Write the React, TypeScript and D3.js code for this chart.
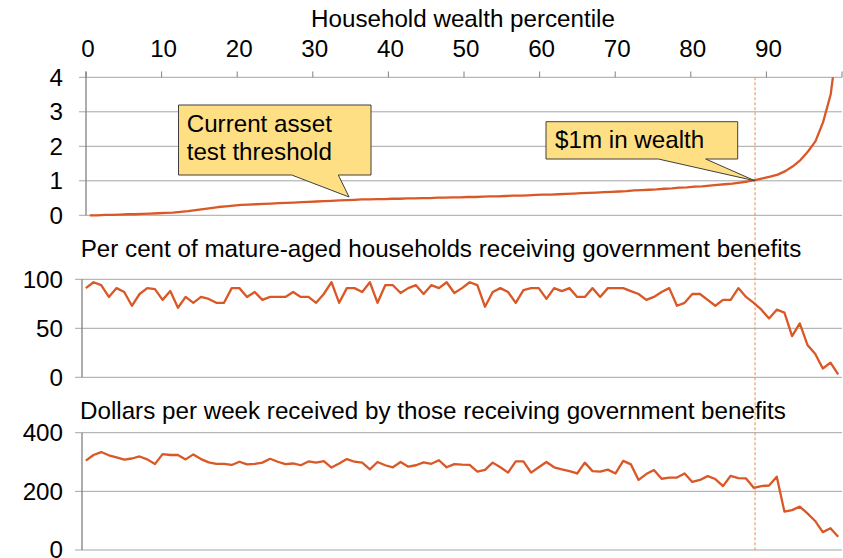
import React from "react";
import * as d3 from "d3";

// ---------- DATA ----------
const percentileTicks = [0, 10, 20, 30, 40, 50, 60, 70, 80, 90, 100];
const percentileTickLabels = ["0", "10", "20", "30", "40", "50", "60", "70", "80", "90", ""];

// Household wealth ($m) by percentile (100 points)
const wealth = [
  0.0, 0.0, 0.01, 0.01, 0.02, 0.03, 0.03, 0.04, 0.05, 0.06,
  0.07, 0.08, 0.1, 0.12, 0.15, 0.18, 0.21, 0.24, 0.26, 0.28,
  0.3, 0.31, 0.32, 0.33, 0.34, 0.35, 0.36, 0.37, 0.38, 0.39,
  0.4, 0.41, 0.42, 0.43, 0.44, 0.45, 0.46, 0.46, 0.47, 0.47,
  0.48, 0.48, 0.49, 0.49, 0.5, 0.5, 0.51, 0.51, 0.52, 0.52,
  0.53, 0.53, 0.54, 0.55, 0.55, 0.56, 0.57, 0.57, 0.58, 0.59,
  0.6, 0.6, 0.61, 0.62, 0.63, 0.64, 0.65, 0.66, 0.67, 0.68,
  0.69, 0.7, 0.72, 0.73, 0.74, 0.75, 0.77, 0.78, 0.8, 0.81,
  0.83, 0.84, 0.86, 0.88, 0.9, 0.92, 0.95, 0.98, 1.02, 1.07,
  1.12, 1.18, 1.28, 1.42, 1.6, 1.85, 2.15, 2.7, 3.5, 5.2,
];

// Per cent of mature-aged households receiving government benefits (99 points)
const benefitShare = [
  91, 97, 94, 82, 91, 87, 73, 85, 91, 90,
  79, 88, 71, 82, 76, 82, 80, 76, 76, 91,
  91, 82, 87, 79, 82, 82, 82, 87, 82, 82,
  76, 85, 97, 76, 91, 91, 87, 97, 76, 94,
  94, 86, 91, 94, 85, 94, 91, 97, 86, 91,
  97, 94, 72, 87, 91, 87, 76, 89, 91, 91,
  80, 91, 88, 91, 82, 82, 91, 82, 91, 91,
  91, 88, 85, 79, 82, 87, 91, 73, 76, 85,
  85, 79, 73, 79, 79, 91, 82, 76, 69, 60,
  69, 66, 42, 55, 33, 24, 9, 15, 3,
];

// Dollars per week received by those receiving government benefits (99 points)
const benefitDollars = [
  305, 324, 334, 323, 316, 308, 312, 319, 309, 293,
  327, 324, 324, 309, 326, 310, 299, 294, 294, 290,
  301, 292, 294, 298, 311, 301, 293, 295, 289, 302,
  298, 303, 281, 295, 310, 301, 298, 275, 300, 289,
  282, 300, 284, 289, 299, 294, 306, 282, 293, 291,
  290, 267, 273, 298, 282, 264, 302, 302, 264, 282,
  300, 282, 275, 269, 261, 298, 269, 267, 274, 261,
  304, 292, 239, 259, 273, 243, 247, 247, 261, 232,
  239, 252, 242, 218, 253, 245, 244, 212, 218, 220,
  250, 131, 136, 148, 125, 99, 61, 74, 45,
];

const wealthTicks = [0, 1, 2, 3, 4];
const shareTicks = [0, 50, 100];
const dollarTicks = [0, 200, 400];

const millionPercentile = 88.5;
const assetThresholdPercentile = 34.8;

const title = "Household wealth percentile";
const shareTitle = "Per cent of mature-aged households receiving government benefits";
const dollarTitle = "Dollars per week received by those receiving government benefits";

// ---------- STYLE ----------
const W = 843;
const H = 558;
const FONT = "'Liberation Sans', Arial, Helvetica, sans-serif";
const FS = 24.2;
const LINE = "#DA5726";
const GRID = "#A6A6A6";
const AXIS = "#808080";
const CALLOUT_FILL = "#FFDF84";
const CALLOUT_STROKE = "#3F3F3F";

export default function App() {
  // Scales
  const xTop = d3.scaleLinear().domain([0, 100]).range([86, 842]);
  const xLow = d3.scaleLinear().domain([0, benefitShare.length]).range([82, 842]);

  const yTop = d3.scaleLinear().domain([0, 4]).range([215.3, 77.3]);
  const yMid = d3.scaleLinear().domain([0, 100]).range([377.3, 279.3]);
  const yBot = d3.scaleLinear().domain([0, 400]).range([550, 432.7]);

  const topLine = d3
    .line<number>()
    .x((_, i) => xTop(i + 0.5))
    .y((d) => yTop(d));
  const midLine = d3
    .line<number>()
    .x((_, i) => xLow(i + 0.5))
    .y((d) => yMid(d));
  const botLine = d3
    .line<number>()
    .x((_, i) => xLow(i + 0.5))
    .y((d) => yBot(d));

  const dashX = xTop(millionPercentile);

  // Callout geometry
  const c1 = { x0: 178.5, y0: 105, x1: 371, y1: 175, b0: 291.7, b1: 338.3 };
  const c1tip = [xTop(assetThresholdPercentile), yTop(0.53)];
  const c1Path = `M${c1.x0},${c1.y0}H${c1.x1}V${c1.y1}H${c1.b1}L${c1tip[0]},${c1tip[1]}L${c1.b0},${c1.y1}H${c1.x0}Z`;

  const c2 = { x0: 546, y0: 121.7, x1: 737.7, y1: 159, b0: 658.3, b1: 705.7 };
  const c2tip = [dashX, yTop(1)];
  const c2Path = `M${c2.x0},${c2.y0}H${c2.x1}V${c2.y1}H${c2.b1}L${c2tip[0]},${c2tip[1]}L${c2.b0},${c2.y1}H${c2.x0}Z`;

  const xLowLeft = xLow(0);
  const xRight = 842;

  return (
    <svg
      width={W}
      height={H}
      viewBox={`0 0 ${W} ${H}`}
      style={{ position: "absolute", left: 0, top: 0, background: "#fff" }}
      fontFamily={FONT}
    >
      <defs>
        <clipPath id="topClip">
          <rect x={86} y={yTop(4)} width={xRight - 86} height={yTop(0) - yTop(4) + 3} />
        </clipPath>
      </defs>
      <rect x={0} y={0} width={W} height={H} fill="#fff" />

      {/* ---------- Top panel ---------- */}
      <text x={463} y={26.7} textAnchor="middle" fontSize={FS} fill="#000">
        {title}
      </text>
      {wealthTicks.map((t) => (
        <g key={"wg" + t}>
          <line x1={79} x2={xRight} y1={yTop(t)} y2={yTop(t)} stroke={GRID} strokeWidth={1} />
          <text x={63} y={yTop(t)} dy="0.35em" textAnchor="end" fontSize={FS} fill="#000">
            {t}
          </text>
        </g>
      ))}
      {percentileTicks.map((t, i) => (
        <g key={"pt" + t}>
          <line x1={xTop(t)} x2={xTop(t)} y1={71.5} y2={yTop(4)} stroke={AXIS} strokeWidth={1} />
          <text x={xTop(t) + 2} y={56.7} textAnchor="middle" fontSize={FS} fill="#000">
            {percentileTickLabels[i]}
          </text>
        </g>
      ))}
      <line x1={86} x2={86} y1={71.5} y2={yTop(0)} stroke={AXIS} strokeWidth={1.3} />

      {/* dashed marker across panels */}
      <line
        x1={dashX}
        x2={dashX}
        y1={yTop(4)}
        y2={yBot(0)}
        stroke="#F08A3C"
        strokeWidth={1}
        strokeDasharray="3,2"
      />

      <path
        d={topLine(wealth) || ""}
        fill="none"
        stroke={LINE}
        strokeWidth={2.3}
        clipPath="url(#topClip)"
        strokeLinejoin="round"
      />

      {/* callouts */}
      <path d={c1Path} fill={CALLOUT_FILL} stroke={CALLOUT_STROKE} strokeWidth={1} />
      <text x={186.7} y={132.3} fontSize={FS} fill="#000">
        Current asset
      </text>
      <text x={186.7} y={160} fontSize={FS} fill="#000">
        test threshold
      </text>
      <path d={c2Path} fill={CALLOUT_FILL} stroke={CALLOUT_STROKE} strokeWidth={1} />
      <text x={555} y={148.3} fontSize={FS} fill="#000">
        $1m in wealth
      </text>

      {/* ---------- Middle panel ---------- */}
      <text x={80.7} y={257.3} fontSize={FS} fill="#000">
        {shareTitle}
      </text>
      {shareTicks.map((t) => (
        <g key={"sg" + t}>
          <line x1={75} x2={xRight} y1={yMid(t)} y2={yMid(t)} stroke={GRID} strokeWidth={1} />
          <text x={63} y={yMid(t)} dy="0.35em" textAnchor="end" fontSize={FS} fill="#000">
            {t}
          </text>
        </g>
      ))}
      <line x1={xLowLeft} x2={xLowLeft} y1={yMid(100)} y2={yMid(0)} stroke={AXIS} strokeWidth={1.3} />
      <path d={midLine(benefitShare) || ""} fill="none" stroke={LINE} strokeWidth={2.3} strokeLinejoin="round" />

      {/* ---------- Bottom panel ---------- */}
      <text x={80} y={419.3} fontSize={FS} fill="#000">
        {dollarTitle}
      </text>
      {dollarTicks.map((t) => (
        <g key={"dg" + t}>
          <line x1={75} x2={xRight} y1={yBot(t)} y2={yBot(t)} stroke={GRID} strokeWidth={1} />
          <text x={63} y={yBot(t)} dy="0.35em" textAnchor="end" fontSize={FS} fill="#000">
            {t}
          </text>
        </g>
      ))}
      <line x1={xLowLeft} x2={xLowLeft} y1={yBot(400)} y2={yBot(0)} stroke={AXIS} strokeWidth={1.3} />
      <path d={botLine(benefitDollars) || ""} fill="none" stroke={LINE} strokeWidth={2.3} strokeLinejoin="round" />
    </svg>
  );
}
